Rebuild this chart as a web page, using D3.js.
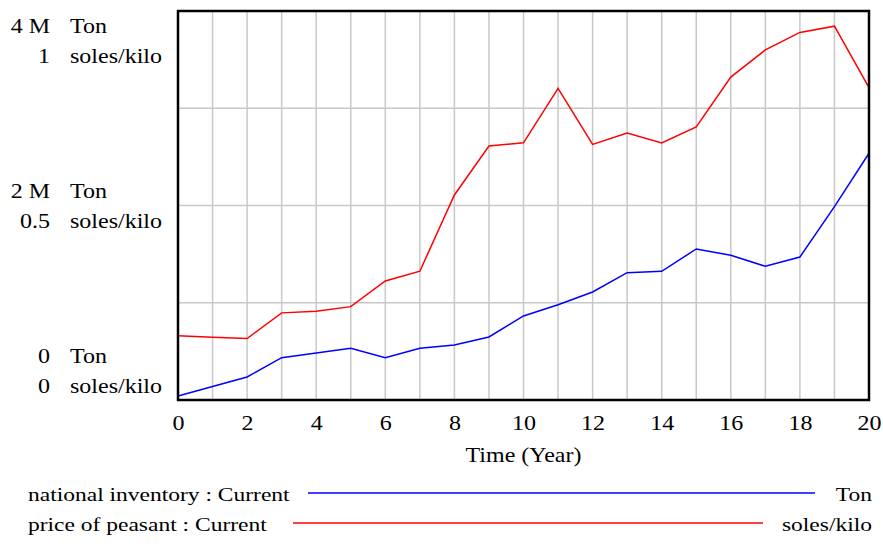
<!DOCTYPE html>
<html><head><meta charset="utf-8">
<script src="https://cdn.jsdelivr.net/npm/d3@7"></script>
<style>body{margin:0;background:#fff}svg{display:block}</style>
</head><body>
<svg id="c" width="883" height="551"></svg>
<script>
const years = d3.range(0, 21);
const inventory = [41000,139000,237000,435000,483000,532000,435000,532000,566000,648000,864000,980000,1111000,1309000,1323000,1553000,1488000,1375000,1470000,1988000,2537000];
const price = [0.165,0.161,0.158,0.224,0.228,0.240,0.306,0.331,0.527,0.653,0.661,0.801,0.657,0.686,0.661,0.702,0.830,0.900,0.945,0.961,0.803];
const xTicks = [0,2,4,6,8,10,12,14,16,18,20];
const invTicks = [{v:0,l:"0"},{v:2000000,l:"2 M"},{v:4000000,l:"4 M"}];
const priceTicks = [{v:0,l:"0"},{v:0.5,l:"0.5"},{v:1,l:"1"}];
const seriesNames = ["national inventory : Current","price of peasant : Current"];
const units = ["Ton","soles/kilo"];

const FONT = "'Liberation Serif', Tinos, 'Times New Roman', Times, serif";
const svg = d3.select("#c");
const L=178, R=869, T=11, B=400;
const SX=1.2;
const x = d3.scaleLinear().domain([0,20]).range([L,R]);
const yInv = d3.scaleLinear().domain([0,4000000]).range([B,T]);
const yPr = d3.scaleLinear().domain([0,1]).range([B,T]);

function txt(tx,ty,s,anchor,size){
  return svg.append("text").attr("transform",`translate(${tx},${ty}) scale(${SX},1)`)
    .attr("text-anchor",anchor||"start").attr("font-family",FONT).style("font-family",FONT)
    .attr("fill","#000").style("font-size",(size||20)+"px").text(s);
}

// grid
const g = svg.append("g");
g.selectAll("line.v").data(years.slice(1,-1)).join("line")
  .attr("x1",d=>x(d)).attr("x2",d=>x(d)).attr("y1",T).attr("y2",B)
  .attr("stroke","#c8c8c8").attr("stroke-width",1.5);
g.selectAll("line.h").data([0.25,0.5,0.75]).join("line")
  .attr("x1",L).attr("x2",R).attr("y1",d=>yPr(d)).attr("y2",d=>yPr(d))
  .attr("stroke","#c8c8c8").attr("stroke-width",1.5);

// lines
svg.append("path").datum(years).attr("fill","none").attr("stroke","#0000ff").attr("stroke-width",1.5)
  .attr("d",d3.line().x(d=>x(d)).y(d=>yInv(inventory[d])));
svg.append("path").datum(years).attr("fill","none").attr("stroke","#ff0000").attr("stroke-width",1.5)
  .attr("d",d3.line().x(d=>x(d)).y(d=>yPr(price[d])));

// frame
svg.append("rect").attr("x",L).attr("y",T).attr("width",R-L).attr("height",B-T)
  .attr("fill","none").attr("stroke","#000").attr("stroke-width",2.5);

// x axis
const xa = svg.append("g").attr("transform",`translate(0,${B})`)
  .call(d3.axisBottom(x).tickValues(xTicks).tickSize(0).tickPadding(0));
xa.attr("font-family",FONT).attr("font-size",20);
xa.select(".domain").remove();
xa.selectAll("text").attr("dy",null).attr("y",null).attr("fill","#000")
  .attr("transform",`translate(0,30) scale(${SX},1)`).style("font-size","20px")
  .style("font-family",FONT);
txt((L+R)/2,462,"Time (Year)","middle");

// y labels (two stacked scales)
function off(v,max){ return v===max ? 22 : (v===0 ? -37 : -8); }
invTicks.forEach(t=>{
  const base = yInv(t.v) + off(t.v,4000000);
  txt(50,base,t.l,"end");
  txt(70,base,units[0]);
});
priceTicks.forEach(t=>{
  const base = yPr(t.v) + off(t.v,1) + 30;
  txt(50,base,t.l,"end");
  txt(70,base,units[1]);
});

// legend
const leg = [
  {name:seriesNames[0],unit:units[0],color:"#0000ff",y:501,x1:308,x2:815},
  {name:seriesNames[1],unit:units[1],color:"#ff0000",y:531,x1:293,x2:763}
];
leg.forEach(d=>{
  txt(28,d.y,d.name,"start",19.6);
  svg.append("line").attr("x1",d.x1).attr("x2",d.x2).attr("y1",d.y-8).attr("y2",d.y-8)
    .attr("stroke",d.color).attr("stroke-width",1.5);
  txt(872,d.y,d.unit,"end",19.6);
});
</script>
</body></html>
